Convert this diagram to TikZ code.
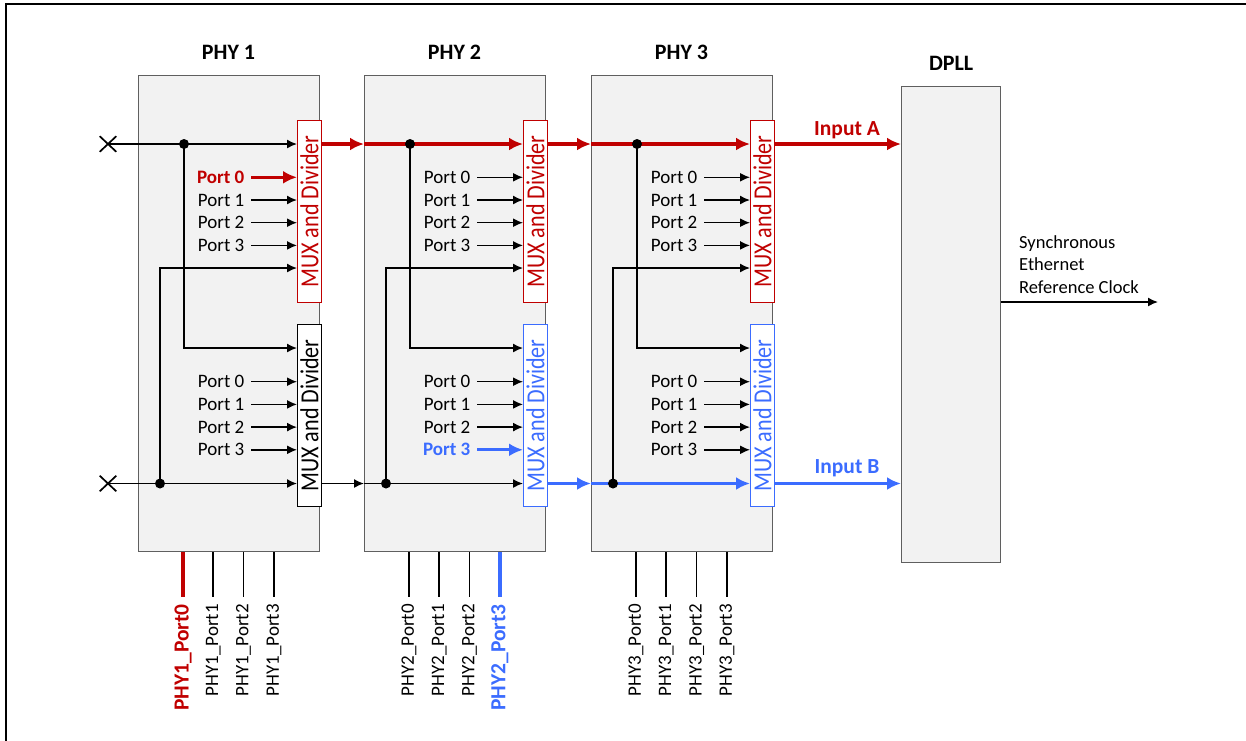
\documentclass[tikz,border=0pt]{standalone}
\usepackage{fontspec}
\setmainfont{Carlito}
\usetikzlibrary{arrows.meta,shapes.misc}
\definecolor{rd}{RGB}{192,0,0}
\definecolor{bl}{RGB}{59,108,255}
\definecolor{boxfill}{RGB}{242,242,242}
\definecolor{boxline}{RGB}{95,95,95}
\newcommand{\fsz}[1]{\fontsize{#1}{#1}\selectfont}
\tikzset{
 block/.style={draw=boxline, fill=boxfill, line width=1.2pt, inner sep=0pt, anchor=north west},
 phy/.style={block, minimum width=181pt, minimum height=476pt},
 mux/.style={fill=white, line width=0.9pt, inner sep=0pt, anchor=north west, minimum width=24pt, minimum height=182pt},
 muxtext/.style={rotate=90, inner sep=0pt, font=\fsz{26}},
 title/.style={font=\bfseries\fsz{22}},
 portlbl/.style={anchor=east, inner sep=0pt, font=\fsz{19}},
 sig/.style={line width=1.5pt, -{Latex[length=10pt,width=9pt]}},
 hot/.style={line width=3.2pt, -{Latex[length=14pt,width=13pt]}},
 pinline/.style={line width=1.7pt},
 pinlbl/.style={rotate=90, anchor=east, inner sep=0pt, font=\fsz{19}},
 hotlbl/.style={font=\bfseries\fsz{21.5}},
 dot/.style={circle, fill, inner sep=0pt, minimum size=10pt},
 xmark/.style={cross out, draw, line width=1.7pt, minimum width=15pt, minimum height=14pt, inner sep=0pt},
 inlbl/.style={font=\bfseries\fsz{21.5}, anchor=base, inner sep=0pt},
 clklbl/.style={font=\fsz{18.5}, anchor=base west, inner sep=0pt},
 lbl1-a0/.style={text=rd, font=\bfseries\fsz{19}},
 arr1-a0/.style={hot, draw=rd},
 lbl2-b3/.style={text=bl, font=\bfseries\fsz{19}},
 arr2-b3/.style={hot, draw=bl},
 pin1-0/.style={draw=rd, line width=3.4pt},
 pinl1-0/.style={text=rd, hotlbl},
 pin2-3/.style={draw=bl, line width=3.4pt},
 pinl2-3/.style={text=bl, hotlbl},
}
\begin{document}
\begin{tikzpicture}[x=1pt,y=-1pt]
\useasboundingbox (0,0) rectangle (1246,740);
\draw[line width=2pt] (6,800) -- (6,4) -- (1300,4);

\foreach \i/\L/\ca/\cb in {1/138/rd/black,2/364/rd/bl,3/591/rd/bl}{
  \node[phy] (phy\i) at (\L,75) {};
  \node[title] (t\i) at (\L+90.5,52) {PHY \i};
  \node[mux, draw=\ca] (ma\i) at (\L+159,120) {};
  \node[muxtext, text=\ca] at (ma\i.center) {\scalebox{0.85}[1]{MUX and Divider}};
  \node[mux, draw=\cb] (mb\i) at (\L+159,324) {};
  \node[muxtext, text=\cb] at (mb\i.center) {\scalebox{0.85}[1]{MUX and Divider}};
  \coordinate (sa\i) at (\L,144);
  \coordinate (sb\i) at (\L,483.5);
  \coordinate (da\i) at (\L+46,144);
  \coordinate (db\i) at (\L+22,483.5);
  \coordinate (ca\i) at (\L+159,268);
  \coordinate (cb\i) at (\L+159,348);
  \draw[sig] (da\i) |- (cb\i);
  \draw[sig] (db\i) |- (ca\i);
  \foreach \k in {0,...,3}{
    \node[portlbl, lbl\i-a\k/.try] (pa\i\k) at (\L+106.5,{177.3+22.7*\k}) {Port \k};
    \draw[sig, arr\i-a\k/.try] ([xshift=6.5pt]pa\i\k.east) -- (pa\i\k.east -| ma\i.west);
    \node[portlbl, lbl\i-b\k/.try] (pb\i\k) at (\L+106.5,{381.7+22.7*\k}) {Port \k};
    \draw[sig, arr\i-b\k/.try] ([xshift=6.5pt]pb\i\k.east) -- (pb\i\k.east -| mb\i.west);
    \coordinate (pin\i\k) at ({\L+45+30.3*\k},597);
    \draw[pinline, pin\i-\k/.try] (phy\i.south -| pin\i\k) -- (pin\i\k);
    \node[pinlbl, pinl\i-\k/.try] (pl\i\k) at ({\L+45+30.3*\k},604) {PHY\i\_Port\k};
  }
}

% DPLL
\node[block, minimum width=99pt, minimum height=476pt] (dpll) at (901,86) {};
\node[title] (tdpll) at (dpll.north |- 0,63) {DPLL};

% external inputs
\node[xmark] (xa) at (108,144) {};
\node[xmark] (xb) at (108,483.5) {};

% main signal lines
\draw[sig] (xa.center) -- (xa.center -| ma1.west);
\draw[sig] (xb.center) -- (xb.center -| mb1.west);
\draw[hot, draw=rd] (ma1.east |- sa1) -- (sa2);
\draw[sig] (mb1.east |- sb1) -- (sb2);
\draw[hot, draw=rd] (sa2) -- (sa2 -| ma2.west);
\draw[sig] (sb2) -- (sb2 -| mb2.west);
\draw[hot, draw=rd] (ma2.east |- sa2) -- (sa3);
\draw[hot, draw=bl] (mb2.east |- sb2) -- (sb3);
\draw[hot, draw=rd] (sa3) -- (sa3 -| ma3.west);
\draw[hot, draw=bl] (sb3) -- (sb3 -| mb3.west);
\draw[hot, draw=rd] (ma3.east |- sa3) -- (sa3 -| dpll.west);
\draw[hot, draw=bl] (mb3.east |- sb3) -- (sb3 -| dpll.west);
\node[inlbl, text=rd] (ina) at (847,135) {Input A};
\node[inlbl, text=bl] (inb) at (847,473.5) {Input B};

\foreach \i in {1,2,3}{
  \node[dot] at (da\i) {};
  \node[dot] at (db\i) {};
}

% output
\coordinate (clk) at (1158,302);
\draw[sig] (dpll.east |- clk) -- (clk);
\node[clklbl] (c1) at (1019,248) {Synchronous};
\node[clklbl] (c2) at (1019,270.7) {Ethernet};
\node[clklbl] (c3) at (1019,293.3) {Reference Clock};
\end{tikzpicture}
\end{document}
